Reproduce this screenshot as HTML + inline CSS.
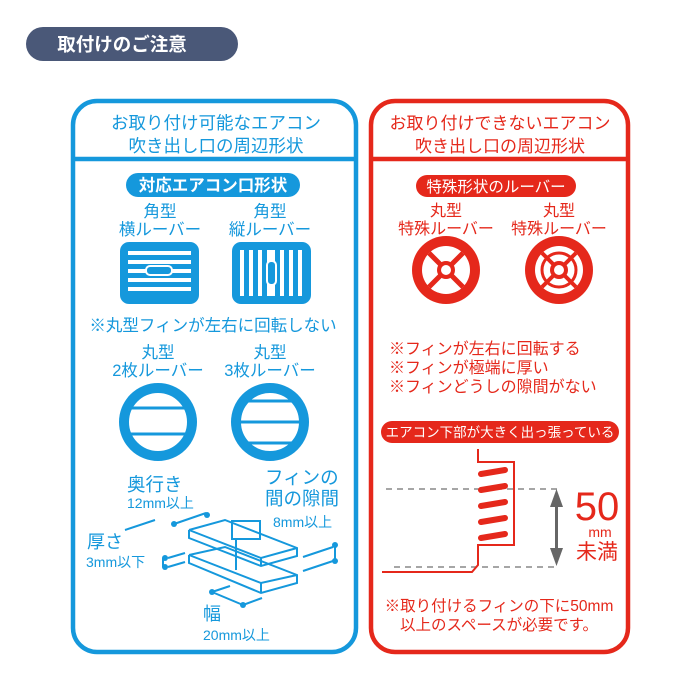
<!DOCTYPE html>
<html><head><meta charset="utf-8"><style>
body{margin:0;background:#fff;}
svg{display:block;font-family:"Liberation Sans","Noto Sans CJK JP",sans-serif;}
</style></head><body>
<svg width="700" height="700" viewBox="0 0 700 700" xmlns="http://www.w3.org/2000/svg">
<!-- header -->
<rect x="26" y="27" width="212" height="34" rx="17" fill="#4a5878"/>
<text x="122" y="51" font-size="18.5" fill="#fff" text-anchor="middle" font-weight="bold">取付けのご注意</text>

<!-- blue panel -->
<g fill="none" stroke="#1598dc" stroke-width="4.5">
<rect x="73" y="101" width="283" height="551" rx="24"/>
<line x1="73" y1="159" x2="356" y2="159"/>
</g>
<g fill="#1598dc" font-size="17.5" text-anchor="middle">
<text x="216" y="129">お取り付け可能なエアコン</text>
<text x="216" y="152">吹き出し口の周辺形状</text>
</g>
<rect x="126" y="173" width="174" height="24" rx="12" fill="#1598dc"/>
<text x="213" y="191" font-size="16.5" fill="#fff" text-anchor="middle" font-weight="bold">対応エアコン口形状</text>
<g fill="#1598dc" font-size="16.5" text-anchor="middle">
<text x="160" y="217">角型</text><text x="160" y="235">横ルーバー</text>
<text x="270" y="217">角型</text><text x="270" y="235">縦ルーバー</text>
<text x="213" y="331">※丸型フィンが左右に回転しない</text>
<text x="158" y="358">丸型</text><text x="158" y="376">2枚ルーバー</text>
<text x="270" y="358">丸型</text><text x="270" y="376">3枚ルーバー</text>
</g>
<!-- square icons -->
<rect x="120" y="242" width="79" height="62" rx="9" fill="#1598dc"/>
<g fill="#fff">
<rect x="128" y="251" width="63" height="4"/><rect x="128" y="260" width="63" height="4"/>
<rect x="128" y="269" width="63" height="4"/><rect x="128" y="278" width="63" height="4"/>
<rect x="128" y="287" width="63" height="4"/>
</g>
<rect x="146" y="266" width="26" height="9" rx="4" fill="#1598dc" stroke="#fff" stroke-width="2"/>
<rect x="232" y="242" width="79" height="62" rx="9" fill="#1598dc"/>
<g fill="#fff">
<rect x="240" y="250" width="4" height="46"/><rect x="249" y="250" width="4" height="46"/>
<rect x="258" y="250" width="4" height="46"/><rect x="280" y="250" width="4" height="46"/>
<rect x="289" y="250" width="4" height="46"/><rect x="298" y="250" width="4" height="46"/>
<rect x="267" y="250" width="8" height="46"/>
</g>
<rect x="267" y="261" width="9" height="24" rx="4" fill="#1598dc" stroke="#fff" stroke-width="2"/>
<!-- round icons -->
<circle cx="158" cy="422" r="34" fill="#fff" stroke="#1598dc" stroke-width="10"/>
<line x1="128" y1="408" x2="188" y2="408" stroke="#1598dc" stroke-width="3"/>
<line x1="128" y1="434" x2="188" y2="434" stroke="#1598dc" stroke-width="3"/>
<circle cx="270" cy="422" r="34" fill="#fff" stroke="#1598dc" stroke-width="10"/>
<line x1="244" y1="401" x2="296" y2="401" stroke="#1598dc" stroke-width="3"/>
<line x1="238" y1="422" x2="302" y2="422" stroke="#1598dc" stroke-width="3"/>
<line x1="244" y1="443" x2="296" y2="443" stroke="#1598dc" stroke-width="3"/>
<!-- fin diagram -->
<g fill="#1598dc" font-size="18.5">
<text x="127" y="491">奥行き</text>
<text x="127" y="508" font-size="14">12mm以上</text>
<text x="265" y="484">フィンの</text>
<text x="265" y="505">間の隙間</text>
<text x="273" y="527" font-size="14">8mm以上</text>
<text x="87" y="548" font-size="18">厚さ</text>
<text x="86" y="567" font-size="14">3mm以下</text>
<text x="203" y="620" font-size="18">幅</text>
<text x="203" y="640" font-size="14">20mm以上</text>
</g>
<g fill="none" stroke="#1598dc" stroke-width="2">
<polyline points="189,530 225,520 297,548 297,556 261,566 189,538 189,530"/>
<polyline points="189,530 261,558 297,548"/><line x1="261" y1="558" x2="261" y2="566"/>
<polyline points="189,555 225,547 297,575 297,583 261,593 189,563 189,555"/>
<polyline points="189,555 261,583 297,575"/><line x1="261" y1="583" x2="261" y2="593"/>
<rect x="232" y="521" width="28" height="18"/>
<line x1="236" y1="540" x2="236" y2="570"/>
<line x1="174" y1="524" x2="206" y2="513"/><line x1="206" y1="513" x2="208" y2="517"/>
<line x1="125" y1="530" x2="155" y2="520"/>
<line x1="168" y1="558" x2="185" y2="553"/><line x1="168" y1="567" x2="185" y2="562"/>
<line x1="163" y1="558" x2="163" y2="567"/>
<line x1="303" y1="557" x2="333" y2="547"/><line x1="303" y1="571" x2="333" y2="561"/>
<line x1="335" y1="545" x2="335" y2="561"/>
<line x1="212" y1="592" x2="230" y2="586"/><line x1="243" y1="605" x2="262" y2="598"/>
<line x1="212" y1="592" x2="243" y2="605"/>
</g>
<g fill="#1598dc">
<circle cx="174" cy="524" r="3"/><circle cx="207" cy="515" r="3"/>
<circle cx="165" cy="558" r="3"/><circle cx="165" cy="567" r="3"/>
<circle cx="335" cy="545" r="3"/><circle cx="335" cy="561" r="3"/>
<circle cx="212" cy="592" r="3"/><circle cx="243" cy="605" r="3"/>
</g>

<!-- red panel -->
<g fill="none" stroke="#e5281b" stroke-width="4.5">
<rect x="371" y="101" width="257" height="551" rx="24"/>
<line x1="371" y1="159" x2="628" y2="159"/>
</g>
<g fill="#e5281b" font-size="17" text-anchor="middle">
<text x="500" y="129">お取り付けできないエアコン</text>
<text x="500" y="152">吹き出し口の周辺形状</text>
</g>
<rect x="416" y="175" width="160" height="22" rx="11" fill="#e5281b"/>
<text x="496" y="192" font-size="15.5" fill="#fff" text-anchor="middle">特殊形状のルーバー</text>
<g fill="#e5281b" font-size="16" text-anchor="middle">
<text x="446" y="216">丸型</text><text x="446" y="234">特殊ルーバー</text>
<text x="559" y="216">丸型</text><text x="559" y="234">特殊ルーバー</text>
</g>
<circle cx="446" cy="270" r="34" fill="#e5281b"/>
<circle cx="446" cy="270" r="24" fill="#fff"/>
<g stroke="#e5281b" stroke-width="5">
<line x1="429" y1="253" x2="463" y2="287"/><line x1="463" y1="253" x2="429" y2="287"/>
</g>
<circle cx="446" cy="270" r="9" fill="#e5281b"/><circle cx="446" cy="270" r="5" fill="#fff"/>
<circle cx="559" cy="270" r="34" fill="#e5281b"/>
<circle cx="559" cy="270" r="24" fill="#fff"/>
<circle cx="559" cy="270" r="17" fill="none" stroke="#e5281b" stroke-width="3"/>
<g stroke="#e5281b" stroke-width="4">
<line x1="542" y1="253" x2="576" y2="287"/><line x1="576" y1="253" x2="542" y2="287"/>
</g>
<circle cx="559" cy="270" r="9" fill="#e5281b"/><circle cx="559" cy="270" r="5" fill="#fff"/>
<g fill="#e5281b" font-size="16">
<text x="389" y="354">※フィンが左右に回転する</text>
<text x="389" y="373">※フィンが極端に厚い</text>
<text x="389" y="392">※フィンどうしの隙間がない</text>
</g>
<rect x="381" y="421" width="238" height="22" rx="11" fill="#e5281b"/>
<text x="500" y="437" font-size="13.5" fill="#fff" text-anchor="middle">エアコン下部が大きく出っ張っている</text>
<g stroke="#888" stroke-width="1.5" stroke-dasharray="6,5">
<line x1="386" y1="489" x2="562" y2="489"/><line x1="394" y1="567" x2="556" y2="567"/>
</g>
<g fill="none" stroke="#e5281b" stroke-width="2">
<polyline points="478,449 478,462 514,462 514,545 478,545 478,565 472,572 382,572"/>
</g>
<g stroke="#e5281b" stroke-width="6" stroke-linecap="round">
<line x1="481" y1="474" x2="505" y2="470"/><line x1="481" y1="490" x2="505" y2="486"/>
<line x1="481" y1="506" x2="505" y2="502"/><line x1="481" y1="522" x2="505" y2="518"/>
<line x1="481" y1="538" x2="505" y2="534"/>
</g>
<g fill="#666">
<rect x="555" y="505" width="3" height="46"/>
<polygon points="556.5,489 550,507 563,507"/><polygon points="556.5,566 550,548 563,548"/>
</g>
<g fill="#e5281b" text-anchor="middle">
<text x="597" y="520" font-size="40">50</text>
<text x="600" y="537" font-size="14">mm</text>
<text x="597" y="559" font-size="21">未満</text>
</g>
<g fill="#e5281b" font-size="15.5" text-anchor="middle">
<text x="499" y="611">※取り付けるフィンの下に50mm</text>
<text x="499" y="630">以上のスペースが必要です。</text>
</g>
</svg>
</body></html>
